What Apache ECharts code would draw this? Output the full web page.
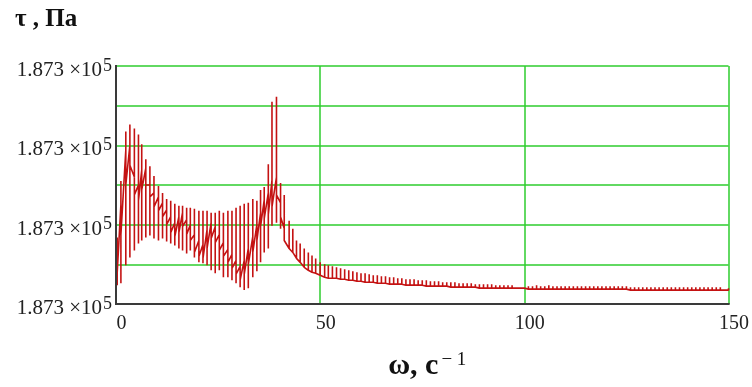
<!DOCTYPE html>
<html>
<head>
<meta charset="utf-8">
<script src="https://cdn.jsdelivr.net/npm/echarts@6/dist/echarts.min.js"></script>
<style>
html,body{margin:0;padding:0;background:#fff;}
#c{width:752px;height:387px;}
</style>
</head>
<body>
<div id="c"></div>
<script>
// ---- data (τ offset in arbitrary units above bottom of plot) ----
const omega = [0.3,1.2,2.4,3.4,4.5,5.5,6.3,7.3,8.3,9.3,
  10.4,11.4,12.4,13.4,14.4,15.4,16.3,17.3,18.2,19.2,
  20.3,21.3,22.3,23.3,24.3,25.3,26.3,27.4,28.4,29.4,
  30.4,31.4,32.4,33.5,34.5,35.4,36.3,37.3,38.2,39.3,
  40.3,41.2,42.4,43.3,44.2,45.1,46.1,47.1,48.0,48.9,
  50.0,51.1,52.0,53.0,
  54,55,56,57,58,59,60,
  61,62,63,64,65,66,67,68,69,70,
  71,72,73,74,75,76,77,78,79,80,
  81,82,83,84,85,86,87,88,89,90,
  91,92,93,94,95,96,97,98,99,100,
  101,102,103,104,105,106,107,108,109,110,
  111,112,113,114,115,116,117,118,119,120,
  121,122,123,124,125,126,127,128,129,130,
  131,132,133,134,135,136,137,138,139,140,
  141,142,143,144,145,146,147,148,149,150];
const tauTop = [67,124,174,181,177,171,161,146,139,129,
  119,112,106,104,101,99,99,97,97,96,
  94,94,94,92,92,94,92,94,94,97,
  99,101,102,106,104,115,118,141,204,209,
  122,110,84,76,64,61,56,52,49,46,
  42,40,39,38,
  37,36,35,34,33,32,31,
  31,30,29,29,28,28,27,27,26,26,
  25,25,25,24,24,24,23,23,23,22,
  22,22,22,21,21,21,21,20,20,20,
  20,20,19,19,19,19,19,18,18,18,
  18,18,19,18,18,19,18,18,18,18,
  18,18,18,18,18,18,18,18,18,18,
  18,18,18,18,18,17,17,17,17,17,
  17,17,17,17,17,17,17,17,17,17,
  17,17,17,17,17,17,17,17,16,16];
const tauBottom = [19,21,39,47,54,61,64,67,69,66,
  64,66,63,61,59,56,54,51,54,47,
  42,41,39,34,31,34,27,27,24,21,
  17,14,16,27,33,42,52,56,79,82,
  76,64,56,52,46,42,37,34,32,31,
  29,27,26,26,
  26,25,25,24,24,23,23,
  22,22,22,21,21,21,20,20,20,20,
  19,19,19,19,19,18,18,18,18,18,
  18,17,17,17,17,17,17,17,16,16,
  16,16,16,16,16,16,16,16,16,16,
  15,15,15,15,15,15,15,15,15,15,
  15,15,15,15,15,15,15,15,15,15,
  15,15,15,15,15,14,14,14,14,14,
  14,14,14,14,14,14,14,14,14,14,
  14,14,14,14,14,14,14,14,14,14];
// the thick middle band: upper and lower crossing of each oscillation
const tauMidUpper = [50,100,155,160,128,120,135,137,120,112,
  108,102,95,88,82,88,92,85,80,70,
  64,60,75,82,78,70,62,55,50,44,
  38,44,56,68,80,92,105,112,125,128,
  102,76,56,52,46,42,37,34,32,31,
  29,27,26,26,
  26,25,25,24,24,23,23,
  22,22,22,21,21,21,20,20,20,20,
  19,19,19,19,19,18,18,18,18,18,
  18,17,17,17,17,17,17,17,16,16,
  16,16,16,16,16,16,16,16,16,16,
  15,15,15,15,15,15,15,15,15,15,
  15,15,15,15,15,15,15,15,15,15,
  15,15,15,15,15,14,14,14,14,14,
  14,14,14,14,14,14,14,14,14,14,
  14,14,14,14,14,14,14,14,14,14];
const tauMidLower = [32,70,120,140,110,104,115,120,108,98,
  94,88,80,72,68,72,78,70,64,52,
  48,46,56,66,62,54,48,42,36,30,
  24,30,40,52,64,78,86,90,98,110,
  88,66,56,52,46,42,37,34,32,31,
  29,27,26,26,
  26,25,25,24,24,23,23,
  22,22,22,21,21,21,20,20,20,20,
  19,19,19,19,19,18,18,18,18,18,
  18,17,17,17,17,17,17,17,16,16,
  16,16,16,16,16,16,16,16,16,16,
  15,15,15,15,15,15,15,15,15,15,
  15,15,15,15,15,15,15,15,15,15,
  15,15,15,15,15,14,14,14,14,14,
  14,14,14,14,14,14,14,14,14,14,
  14,14,14,14,14,14,14,14,14,14];
const xTicks = [0, 50, 100, 150];
const yTicks = [0, 80, 160, 240];
const yTickMantissa = '1.873 \u00d710';
const yTickExponent = '5';
const titleText = '\u03c4 , \u041f\u0430';
const xNameMain = '\u03c9, \u0441';
const xNameExp = '\u2212 1';

// build the line: each oscillation goes upper mid -> top -> bottom -> lower mid
const lineData = [];
for (let i = 0; i < omega.length; i++) {
  lineData.push([omega[i], tauMidUpper[i]]);
  lineData.push([omega[i], tauTop[i]]);
  lineData.push([omega[i], tauBottom[i]]);
  lineData.push([omega[i], tauMidLower[i]]);
}

const serif = 'Liberation Serif, Times New Roman, serif';
const chart = echarts.init(document.getElementById('c'), null, {renderer: 'canvas'});
const borderLine = {show: true, lineStyle: {color: '#3a3a3a', width: 2}};
chart.setOption({
  animation: false,
  backgroundColor: '#ffffff',
  title: {
    text: titleText, left: 15, top: 6, padding: 0,
    textStyle: {fontFamily: serif, fontWeight: 'bold', fontSize: 25, color: '#111', lineHeight: 28}
  },
  grid: {left: 116, right: 23, top: 66, bottom: 83},
  xAxis: [{
    type: 'value', min: xTicks[0], max: xTicks[xTicks.length - 1], interval: xTicks[1] - xTicks[0],
    axisLine: borderLine, axisTick: {show: false},
    splitLine: {show: true, lineStyle: {color: '#2ecc2e', width: 1.5}},
    axisLabel: {fontFamily: serif, fontSize: 20, color: '#222', margin: 10, padding: [0, 0, 0, 11]},
    name: '{w|' + xNameMain + '}{s|' + xNameExp + '}',
    nameLocation: 'middle', nameGap: 39,
    nameTextStyle: {
      padding: [0, 0, 0, 10],
      rich: {
        w: {fontFamily: serif, fontWeight: 'bold', fontSize: 30, color: '#111', lineHeight: 30, padding: [12, 0, 0, 0]},
        s: {fontFamily: serif, fontSize: 19, color: '#111', lineHeight: 19, verticalAlign: 'top', padding: [6, 0, 0, 3]}
      }
    },
    z: 1
  }, {
    type: 'value', position: 'top', min: 0, max: 1, axisLine: borderLine,
    axisTick: {show: false}, axisLabel: {show: false}, splitLine: {show: false}, z: 4
  }, {
    type: 'value', position: 'bottom', min: 0, max: 1, axisLine: borderLine,
    axisTick: {show: false}, axisLabel: {show: false}, splitLine: {show: false}, z: 4
  }],
  yAxis: [{
    type: 'value', min: yTicks[0], max: yTicks[yTicks.length - 1], interval: 40,
    axisLine: borderLine, axisTick: {show: false},
    splitLine: {show: true, lineStyle: {color: '#2ecc2e', width: 1.5}},
    axisLabel: {
      margin: 4,
      formatter: function (v) {
        return yTicks.indexOf(v) >= 0 ? '{m|' + yTickMantissa + '}{e|' + yTickExponent + '}' : '';
      },
      rich: {
        m: {fontFamily: serif, fontSize: 21, color: '#222', lineHeight: 22, padding: [9, 0, 0, 0]},
        e: {fontFamily: serif, fontSize: 18, color: '#222', lineHeight: 18, verticalAlign: 'top', padding: [2, 0, 0, 1]}
      }
    },
    z: 1
  }, {
    type: 'value', position: 'right', min: 0, max: 1, axisLine: borderLine,
    axisTick: {show: false}, axisLabel: {show: false}, splitLine: {show: false}, z: 4
  }, {
    type: 'value', position: 'left', min: 0, max: 1, axisLine: borderLine,
    axisTick: {show: false}, axisLabel: {show: false}, splitLine: {show: false}, z: 4
  }],
  series: [{
    type: 'line', xAxisIndex: 0, yAxisIndex: 0, data: lineData,
    showSymbol: false, symbol: 'none',
    lineStyle: {color: '#c41212', width: 1.6},
    z: 3
  }]
});
</script>
</body>
</html>
